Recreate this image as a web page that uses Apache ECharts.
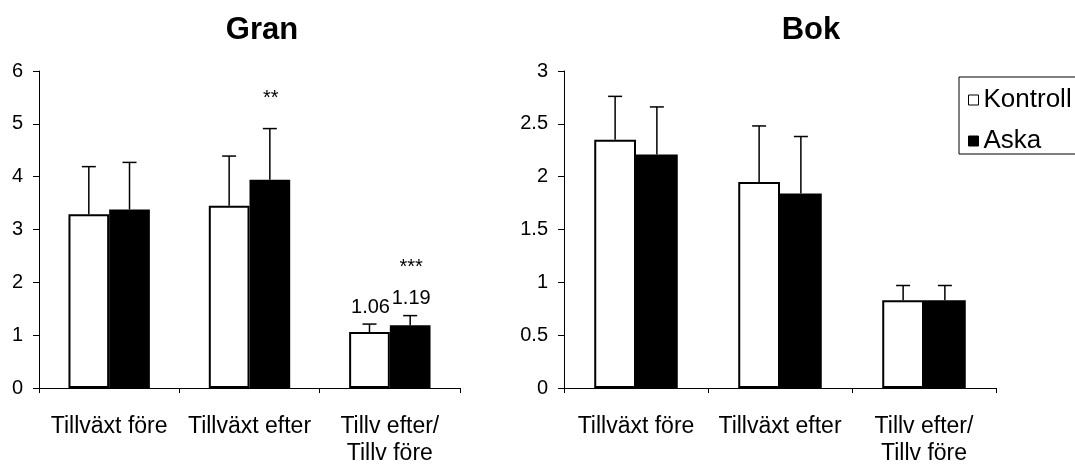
<!DOCTYPE html>
<html>
<head>
<meta charset="utf-8">
<script src="https://cdn.jsdelivr.net/npm/echarts@6/dist/echarts.min.js"></script>
<style>html,body{margin:0;padding:0;background:#fff}#c{width:1075px;height:467px}</style>
</head>
<body>
<div id="c"></div>
<script>
const categories = ['Tillväxt före', 'Tillväxt efter', 'Tillv efter/\nTillv före'];
const seriesNames = ['Kontroll', 'Aska'];

const granKontroll = [3.29, 3.45, 1.06];
const granKontrollSD = [0.90, 0.94, 0.15];
const granAska = [3.38, 3.94, 1.19];
const granAskaSD = [0.89, 0.97, 0.18];
const granKontrollLabels = ['', '', '1.06'];
const granAskaLabels = ['', '', '1.19'];
const granAskaStars = ['', '**', '***'];

const bokKontroll = [2.35, 1.95, 0.83];
const bokKontrollSD = [0.41, 0.53, 0.14];
const bokAska = [2.21, 1.84, 0.83];
const bokAskaSD = [0.45, 0.54, 0.14];

const granTicks = { min: 0, max: 6, interval: 1 };
const bokTicks = { min: 0, max: 3, interval: 0.5 };

const FONT = "'Liberation Sans', Arial, sans-serif";
const CAT_GAP = 0.42;

function errSeries(gridIdx, values, sds, side, labels, stars) {
  return {
    type: 'custom',
    xAxisIndex: gridIdx, yAxisIndex: gridIdx,
    z: 5,
    silent: true,
    data: values.map((v, i) => [i, v, sds[i]]),
    renderItem: function (params, api) {
      const i = params.dataIndex;
      const cat = api.value(0), v = api.value(1), sd = api.value(2);
      const base = api.coord([cat, v]);
      const top = api.coord([cat, v + sd]);
      const band = api.size([1, 0])[0];
      const barW = band * (1 - CAT_GAP) / 2;
      const x = base[0] + side * barW / 2;
      const ls = { stroke: '#000', lineWidth: 1.5 };
      const children = [
        { type: 'line', shape: { x1: x, y1: base[1], x2: x, y2: top[1] }, style: ls },
        { type: 'line', shape: { x1: x - 7, y1: top[1], x2: x + 7, y2: top[1] }, style: ls }
      ];
      const lab = labels ? labels[i] : '';
      if (lab) {
        children.push({ type: 'text', style: { text: lab, x: x + 1, y: top[1] - 7, align: 'center', verticalAlign: 'bottom', fontSize: 20, fontFamily: FONT, fill: '#000' } });
      }
      const st = stars ? stars[i] : '';
      if (st) {
        children.push({ type: 'text', style: { text: st, x: x + 1, y: top[1] - (lab ? 38 : 20), align: 'center', verticalAlign: 'bottom', fontSize: 20, fontFamily: FONT, fill: '#000' } });
      }
      return { type: 'group', children: children };
    }
  };
}

function barSeries(gridIdx, name, values) {
  const white = name === 'Kontroll';
  return {
    type: 'bar', name: name,
    xAxisIndex: gridIdx, yAxisIndex: gridIdx,
    data: values,
    barGap: '0%', barCategoryGap: (CAT_GAP * 100) + '%',
    itemStyle: { color: white ? '#fff' : '#000', borderColor: '#000', borderWidth: 2 },
    animation: false
  };
}

const xAxisCommon = {
  type: 'category', data: categories,
  axisLine: { lineStyle: { color: '#000', width: 1 } },
  axisTick: { show: true, length: 5, lineStyle: { color: '#000' } },
  axisLabel: { color: '#000', fontSize: 23, fontFamily: FONT, margin: 25, lineHeight: 27, interval: 0 }
};
const yAxisCommon = {
  type: 'value',
  axisLine: { show: true, lineStyle: { color: '#000', width: 1 } },
  axisTick: { show: true, length: 6, lineStyle: { color: '#000' } },
  axisLabel: { color: '#000', fontSize: 20, fontFamily: FONT, margin: 16 },
  splitLine: { show: false }
};

const chart = echarts.init(document.getElementById('c'), null, { renderer: 'canvas' });
chart.setOption({
  animation: false,
  backgroundColor: '#fff',
  title: [
    { text: 'Gran', left: 257, top: 10, textAlign: 'center', textStyle: { fontSize: 31, fontWeight: 'bold', fontFamily: FONT, color: '#000' } },
    { text: 'Bok', left: 806, top: 10, textAlign: 'center', textStyle: { fontSize: 31, fontWeight: 'bold', fontFamily: FONT, color: '#000' } }
  ],
  legend: {
    orient: 'vertical', left: 959, top: 77,
    borderColor: '#000', borderWidth: 1, borderRadius: 0,
    padding: [10, 30, 0, 9],
    itemWidth: 10, itemHeight: 10, itemGap: 15,
    textStyle: { fontSize: 26, fontFamily: FONT, color: '#000', lineHeight: 22 },
    data: [
      { name: seriesNames[0], icon: 'rect', itemStyle: { color: '#fff', borderColor: '#000', borderWidth: 1 } },
      { name: seriesNames[1], icon: 'rect', itemStyle: { color: '#000', borderColor: '#000', borderWidth: 1 } }
    ],
    selectedMode: false
  },
  grid: [
    { left: 39, top: 71, width: 421, height: 317 },
    { left: 564, top: 71, width: 432, height: 317 }
  ],
  xAxis: [
    Object.assign({ gridIndex: 0 }, xAxisCommon),
    Object.assign({ gridIndex: 1 }, xAxisCommon)
  ],
  yAxis: [
    Object.assign({ gridIndex: 0 }, yAxisCommon, granTicks),
    Object.assign({ gridIndex: 1 }, yAxisCommon, bokTicks)
  ],
  series: [
    barSeries(0, seriesNames[0], granKontroll),
    barSeries(0, seriesNames[1], granAska),
    barSeries(1, seriesNames[0], bokKontroll),
    barSeries(1, seriesNames[1], bokAska),
    errSeries(0, granKontroll, granKontrollSD, -1, granKontrollLabels, null),
    errSeries(0, granAska, granAskaSD, 1, granAskaLabels, granAskaStars),
    errSeries(1, bokKontroll, bokKontrollSD, -1, null, null),
    errSeries(1, bokAska, bokAskaSD, 1, null, null)
  ]
});
</script>
</body>
</html>
